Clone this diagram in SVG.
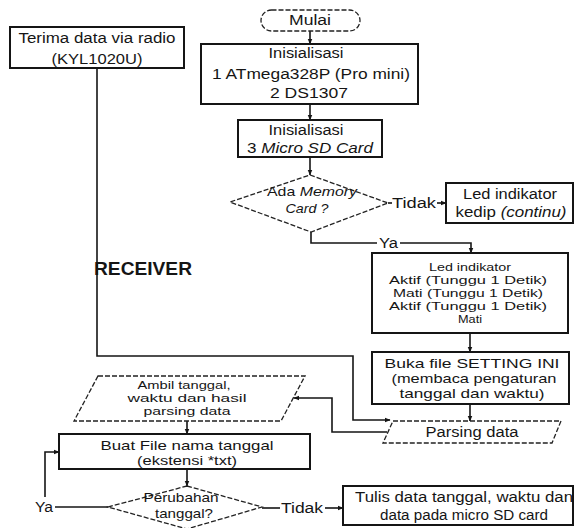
<svg xmlns="http://www.w3.org/2000/svg" width="575" height="528" viewBox="0 0 575 528">
  <defs>
    <marker id="arr" viewBox="0 0 10 10" refX="9" refY="5" markerWidth="6" markerHeight="6" orient="auto" markerUnits="userSpaceOnUse">
      <path d="M0,1 L10,5 L0,9 z" fill="#151515"/>
    </marker>
    <style>
      .box { fill: #fff; stroke: #151515; stroke-width: 2; }
      .dash { fill: #fff; stroke: #222; stroke-width: 1.3; stroke-dasharray: 5 2; }
      .ln { fill: none; stroke: #151515; stroke-width: 1.6; }
      text { font-family: "Liberation Sans", Arial, sans-serif; font-size: 14px; fill: #151515; text-anchor: middle; }
      .f13 { font-size: 13px; }
      .f12 { font-size: 12px; }
      .sm { font-size: 11px; }
      .lbl { text-anchor: start; }
      .it { font-style: italic; }
      .big { font-size: 18px; font-weight: bold; text-anchor: start; }
    </style>
  </defs>
  <rect width="575" height="528" fill="#fff"/>

  <!-- connectors -->
  <g id="connectors">
    <line class="ln" x1="310" y1="31" x2="310" y2="44" marker-end="url(#arr)"/>
    <line class="ln" x1="310" y1="104" x2="310" y2="120" marker-end="url(#arr)"/>
    <line class="ln" x1="310" y1="157" x2="310" y2="175" marker-end="url(#arr)"/>
    <line class="ln" x1="388" y1="203" x2="392" y2="203"/>
    <line class="ln" x1="437" y1="203" x2="446" y2="203" marker-end="url(#arr)"/>
    <polyline class="ln" points="311,232 311,243 377,243"/>
    <polyline class="ln" points="400,243 471,243 471,253" marker-end="url(#arr)"/>
    <line class="ln" x1="470" y1="333" x2="470" y2="352" marker-end="url(#arr)"/>
    <line class="ln" x1="470" y1="404" x2="470" y2="421" marker-end="url(#arr)"/>
    <polyline class="ln" points="97,68 97,356 353,356 353,420 390,420" marker-end="url(#arr)"/>
    <polyline class="ln" points="387,432 332,432 332,398 294,398" marker-end="url(#arr)"/>
    <line class="ln" x1="187" y1="421" x2="187" y2="434" marker-end="url(#arr)"/>
    <line class="ln" x1="187" y1="469" x2="187" y2="486" marker-end="url(#arr)"/>
    <line class="ln" x1="108" y1="507" x2="55" y2="507"/>
    <polyline class="ln" points="45,497 45,452 59,452" marker-end="url(#arr)"/>
    <line class="ln" x1="262" y1="508" x2="280" y2="508"/>
    <line class="ln" x1="325" y1="508" x2="343" y2="508" marker-end="url(#arr)"/>
    <text class="lbl" x="392" y="208" textLength="44" lengthAdjust="spacingAndGlyphs">Tidak</text>
    <text class="lbl" x="379" y="248" textLength="19" lengthAdjust="spacingAndGlyphs">Ya</text>
    <text class="lbl" x="35" y="512" textLength="18" lengthAdjust="spacingAndGlyphs">Ya</text>
    <text class="lbl" x="281" y="513" textLength="42" lengthAdjust="spacingAndGlyphs">Tidak</text>
  </g>

  <g id="receiver">
    <rect class="box" x="10" y="27" width="174" height="41"/>
    <text x="97" y="43" textLength="157" lengthAdjust="spacingAndGlyphs">Terima data via radio</text>
    <text x="97" y="64" textLength="91" lengthAdjust="spacingAndGlyphs">(KYL1020U)</text>
  </g>

  <g id="receiver-label">
    <text class="big" x="94" y="275" textLength="98" lengthAdjust="spacingAndGlyphs">RECEIVER</text>
  </g>

  <g id="mulai">
    <rect class="dash" x="261" y="10" width="99" height="21" rx="10.5"/>
    <text x="310" y="25" textLength="42" lengthAdjust="spacingAndGlyphs">Mulai</text>
  </g>

  <g id="init1">
    <rect class="box" x="201" y="44" width="217" height="60"/>
    <text x="306" y="58" textLength="75" lengthAdjust="spacingAndGlyphs">Inisialisasi</text>
    <text x="311" y="79" textLength="198" lengthAdjust="spacingAndGlyphs">1  ATmega328P (Pro mini)</text>
    <text x="309" y="98" textLength="78" lengthAdjust="spacingAndGlyphs">2  DS1307</text>
  </g>

  <g id="init2">
    <rect class="box" x="238" y="120" width="144" height="37"/>
    <text x="306" y="135" textLength="75" lengthAdjust="spacingAndGlyphs">Inisialisasi</text>
    <text x="310" y="153" textLength="126" lengthAdjust="spacingAndGlyphs">3  <tspan class="it">Micro SD Card</tspan></text>
  </g>

  <g id="cek-memory">
    <polygon class="dash" points="310,175 388,203 311,232 230,202"/>
    <text class="f13" x="312" y="196" textLength="90" lengthAdjust="spacingAndGlyphs">Ada <tspan class="it">Memory</tspan></text>
    <text class="f13 it" x="307" y="213" textLength="43" lengthAdjust="spacingAndGlyphs">Card ?</text>
  </g>

  <g id="led-kedip">
    <rect class="box" x="446" y="183" width="127" height="40"/>
    <text x="510" y="199" textLength="94" lengthAdjust="spacingAndGlyphs">Led indikator</text>
    <text x="511" y="217" textLength="111" lengthAdjust="spacingAndGlyphs">kedip <tspan class="it">(continu)</tspan></text>
  </g>

  <g id="led-indikator">
    <rect class="box" x="372" y="253" width="196" height="80"/>
    <text class="sm" x="470" y="271" textLength="82" lengthAdjust="spacingAndGlyphs">Led indikator</text>
    <text class="sm" x="468" y="284" textLength="158" lengthAdjust="spacingAndGlyphs">Aktif (Tunggu 1 Detik)</text>
    <text class="sm" x="468" y="297" textLength="150" lengthAdjust="spacingAndGlyphs">Mati (Tunggu 1 Detik)</text>
    <text class="sm" x="468" y="310" textLength="158" lengthAdjust="spacingAndGlyphs">Aktif (Tunggu 1 Detik)</text>
    <text class="sm" x="470" y="323" textLength="24" lengthAdjust="spacingAndGlyphs">Mati</text>
  </g>

  <g id="buka-setting">
    <rect class="box" x="372" y="352" width="197" height="52"/>
    <text class="f13" x="472" y="368" textLength="175" lengthAdjust="spacingAndGlyphs">Buka file SETTING INI</text>
    <text class="f13" x="474" y="383" textLength="165" lengthAdjust="spacingAndGlyphs">(membaca pengaturan</text>
    <text class="f13" x="472" y="398" textLength="145" lengthAdjust="spacingAndGlyphs">tanggal dan waktu)</text>
  </g>

  <g id="parsing">
    <polygon class="dash" points="393,421 561,421 552,443 383,443"/>
    <text x="472" y="437" textLength="93" lengthAdjust="spacingAndGlyphs">Parsing data</text>
  </g>

  <g id="ambil">
    <polygon class="dash" points="98,376 305,376 281,421 74,421"/>
    <text class="sm" x="184" y="389" textLength="93" lengthAdjust="spacingAndGlyphs">Ambil tanggal,</text>
    <text class="sm" x="187" y="402" textLength="119" lengthAdjust="spacingAndGlyphs">waktu dan hasil</text>
    <text class="sm" x="187" y="415" textLength="87" lengthAdjust="spacingAndGlyphs">parsing data</text>
  </g>

  <g id="buat-file">
    <rect class="box" x="59" y="434" width="251" height="35"/>
    <text class="f13" x="187" y="450" textLength="173" lengthAdjust="spacingAndGlyphs">Buat File nama tanggal</text>
    <text class="f13" x="187" y="465" textLength="100" lengthAdjust="spacingAndGlyphs">(ekstensi *txt)</text>
  </g>

  <g id="cek-tanggal">
    <polygon class="dash" points="187,486 262,507 187,529 108,507"/>
    <text class="f13" x="181" y="502" textLength="75" lengthAdjust="spacingAndGlyphs">Perubahan</text>
    <text class="f13" x="184" y="518" textLength="58" lengthAdjust="spacingAndGlyphs">tanggal?</text>
  </g>

  <g id="tulis">
    <rect class="box" x="343" y="486" width="230" height="39"/>
    <text x="464" y="502" textLength="218" lengthAdjust="spacingAndGlyphs">Tulis data tanggal, waktu dan</text>
    <text x="464" y="520" textLength="168" lengthAdjust="spacingAndGlyphs">data pada micro SD card</text>
  </g>
</svg>
